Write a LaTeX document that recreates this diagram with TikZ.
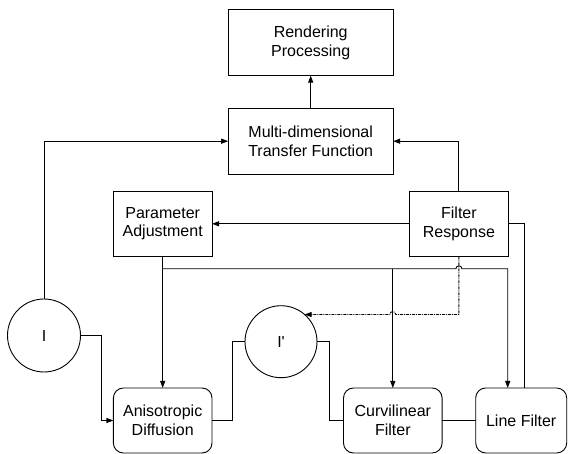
\documentclass[tikz,border=0pt]{standalone}
\usepackage{fontspec}
\setmainfont{Liberation Sans}
\setmonofont{Liberation Sans}
\usetikzlibrary{arrows.meta,calc}
\begin{document}
\begin{tikzpicture}[x=1pt,y=-1pt,
  every node/.style={font=\fontsize{16}{18.6}\selectfont, align=center, inner sep=0pt, outer sep=0pt},
  box/.style={draw, line width=0.9pt, minimum width=98.6pt, minimum height=65pt},
  wide/.style={box, minimum width=165pt, minimum height=66pt},
  rbox/.style={box, rounded corners=10pt},
  circ/.style={draw, circle, line width=0.9pt, minimum size=72pt},
  con/.style={line width=0.9pt},
  arr/.style={con, -{Triangle[length=7pt,width=5pt]}},
  dsh/.style={dash pattern=on 3pt off 1pt on 1pt off 1pt}]
\useasboundingbox (0,0) rectangle (568,454);
\node[wide] (rp) at (310.7,42.6) {Rendering\\Processing};
\node[wide] (tf) at (310.7,141.2) {Multi-dimensional\\Transfer Function};
\node[box] (pa) at (162.7,223.8) {Parameter\\Adjustment};
\node[box] (fr) at (458.9,223.8) {Filter\\Response};
\node[rbox] (ad) at (162.7,420.5) {Anisotropic\\Diffusion};
\node[rbox] (cf) at (392.8,420.5) {Curvilinear\\Filter};
\node[rbox, minimum width=91pt] (lf) at (521.2,420.5) {Line Filter};
\node[circ, minimum size=73pt] (i) at (44,335.5) {I};
\node[circ] (ip) at (281,341.7) {I{\ttfamily '}};
% top connectors
\draw[arr] (tf) -- (rp);
\draw[arr] (i.north) |- (tf.west);
\draw[arr] (fr.north) |- (tf.east);
\draw[arr] (fr.west) -- (pa.east);
\coordinate (lfup) at ([xshift=3.1pt]lf.north);
\draw[con] (lfup) |- (fr.east);
% parameter distribution
\draw[arr] (pa) -- (ad);
\coordinate (br) at ($(pa.south)+(0,12.5)$);
\coordinate (lfin) at ([xshift=-13.5pt]lf.north);
\draw[arr] (br) -- ($(fr.south |- br)+(-3,0)$) arc[start angle=180,end angle=0,radius=3pt] -| (lfin);
\draw[arr] (cf.north |- br) -- (cf.north);
% dashed feedback
\coordinate (dj) at (fr.south |- ip.49.6);
\draw[arr, dsh] (fr.south) -- (dj) -- ($(cf.north |- dj)+(3,0)$) arc[start angle=0,end angle=180,radius=3pt] -- (ip.49.6);
% bottom chain
\draw[arr] (i.east) -- ++(20.7,0) |- (ad.west);
\draw[con] (ad.east) -- ++(20.2,0) |- (ip.west);
\draw[con] (ip.east) -- ++(12.7,0) |- (cf.west);
\draw[con] (cf) -- (lf);
\end{tikzpicture}
\end{document}
